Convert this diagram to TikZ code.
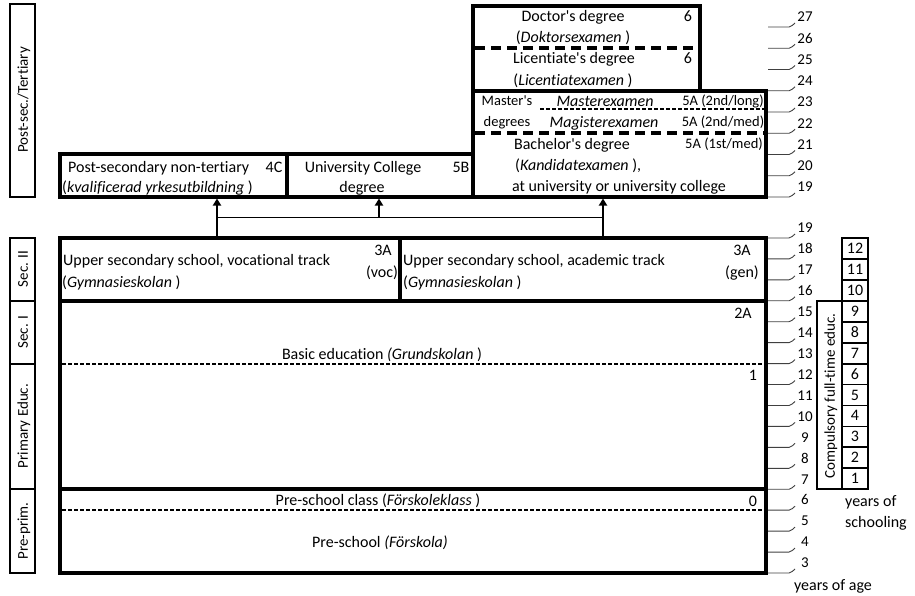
\documentclass[tikz,border=0pt]{standalone}
\usepackage{fontspec}
\setmainfont{Carlito}[Ligatures={TeXOff,NoCommon}]
\usetikzlibrary{arrows.meta}
\begin{document}
\begin{tikzpicture}[x=1pt,y=-1pt,
  thickbox/.style={line width=4pt},
  catbox/.style={line width=1.8pt},
  heavydash/.style={line width=4pt, dash pattern=on 10pt off 6pt},
  thindash/.style={line width=1.8pt, dash pattern=on 4pt off 2pt},
  tickline/.style={line width=0.9pt, draw=black!75},
  thinline/.style={line width=1pt},
  txt/.style={inner sep=0pt, text height=10pt, text depth=0pt, font=\fontsize{16}{20}\selectfont},
  smalltxt/.style={inner sep=0pt, text height=9pt, text depth=0pt, font=\fontsize{14.5}{18}\selectfont},
  agenum/.style={inner sep=0pt, text height=9.5pt, text depth=0pt, font=\fontsize{15}{18}\selectfont},
  yearnum/.style={inner sep=0pt, text height=10pt, text depth=0pt, font=\fontsize{16}{18}\selectfont},
  cattxt/.style={inner sep=0pt, rotate=90, text height=9.5pt, text depth=0pt, font=\fontsize{15}{18}\selectfont},
  arr/.style={line width=2.4pt, -{Triangle[width=8pt,length=7pt]}},
]
\useasboundingbox (0,0) rectangle (915,595);

% ---------- category column ----------
\draw[catbox] (10,4) rectangle (35,197);
\draw[catbox] (10,238) rectangle (35,300.8);
\draw[catbox] (10,300.8) rectangle (35,363.6);
\draw[catbox] (10,363.6) rectangle (35,489.2);
\draw[catbox] (10,489.2) rectangle (35,573);
\node[cattxt] (c1) at (23,100) {Post-sec./Tertiary};
\node[cattxt] (c2) at (23,269) {Sec. II};
\node[cattxt] (c3) at (23,332) {Sec. I};
\node[cattxt] (c4) at (23,426) {Primary Educ.};
\node[cattxt] (c5) at (23,531) {Pre-prim.};

% ---------- tertiary boxes ----------
\draw[thickbox] (473,5.75) rectangle (700,90.75);
\draw[heavydash] (475,48.25) -- (698,48.25);
\draw[thickbox] (473,90.75) rectangle (766,197);
\draw[thindash] (540,109) -- (764,109);
\draw[heavydash] (475,133.25) -- (764,133.25);
\draw[thickbox] (60,154) rectangle (287,197);
\draw[thickbox] (287,154) rectangle (473,197);

\node[txt] (doc1) at (573,16) {Doctor's degree};
\node[txt] (doc6) at (688,16) {6};
\node[txt] (doc2) at (573,37) {(\textit{Doktorsexamen} )};
\node[txt] (lic1) at (574,58) {Licentiate's degree};
\node[txt] (lic6) at (688,58) {6};
\node[txt] (lic2) at (573,80) {(\textit{Licentiatexamen} )};
\node[smalltxt] (ms1) at (507,101) {Master's};
\node[smalltxt] (ms2) at (507,122) {degrees};
\node[txt] (mex) at (605,101) {\textit{Masterexamen}};
\node[smalltxt] (m5a) at (723,101) {5A (2nd/long)};
\node[txt] (mag) at (604,122) {\textit{Magisterexamen}};
\node[smalltxt] (g5a) at (723,122) {5A (2nd/med)};
\node[txt] (ba1) at (572,144) {Bachelor's degree};
\node[smalltxt] (b5a) at (724,144) {5A (1st/med)};
\node[txt, anchor=west] (ba2) at (515,165) {(\textit{Kandidatexamen} ),};
\node[txt] (ba3) at (619,186) {at university or university college};

\node[txt, anchor=west] (ps1) at (68,167) {Post-secondary non-tertiary};
\node[txt] (ps4c) at (274,167) {4C};
\node[txt, anchor=west] (ps2) at (62,187) {(\textit{kvalificerad yrkesutbildning} )};
\node[txt] (uc1) at (363,167) {University College};
\node[txt] (uc5b) at (461,167) {5B};
\node[txt] (uc2) at (362,187) {degree};

% ---------- arrows ----------
\coordinate (vocTop) at (217,236);
\coordinate (pstBot) at (217,198.5);
\coordinate (acTop) at (603,236);
\coordinate (bacBot) at (603,198.5);
\coordinate (jL) at (217,217);
\coordinate (jR) at (603,217);
\coordinate (jM) at (379,217);
\coordinate (ucBot) at (379,198.5);
\draw[thinline] (jL) -- (jR);
\draw[arr] (vocTop) -- (pstBot);
\draw[arr] (acTop) -- (bacBot);
\draw[arr] (jM) -- (ucBot);

% ---------- secondary & basic ----------
\draw[thickbox] (60,238) rectangle (400,300.8);
\draw[thickbox] (400,238) rectangle (766,300.8);
\draw[thickbox] (60,300.8) rectangle (766,489.2);
\draw[thindash] (62,363.6) -- (764,363.6);
\draw[thickbox] (60,489.2) rectangle (766,573);
\draw[thindash] (62,510.2) -- (764,510.2);

\node[txt, anchor=west] (us1) at (63,260) {Upper secondary school, vocational track};
\node[txt, anchor=west] (us2) at (62,282) {(\textit{Gymnasieskolan} )};
\node[txt] (us3a) at (383,250) {3A};
\node[txt] (usvoc) at (382,272) {(voc)};
\node[txt, anchor=west] (ua1) at (403,260) {Upper secondary school, academic track};
\node[txt, anchor=west] (ua2) at (403,282) {(\textit{Gymnasieskolan} )};
\node[txt] (ua3a) at (742,250) {3A};
\node[txt] (uagen) at (742,272) {(gen)};

\node[txt] (b2a) at (743,313) {2A};
\node[txt] (bas) at (382,354) {Basic education \textit{(Grundskolan} )};
\node[txt] (b1) at (753,375) {1};
\node[txt] (psc) at (378,500) {Pre-school class (\textit{Förskoleklass} )};
\node[txt] (b0) at (753,501) {0};
\node[txt] (pre) at (380,542) {Pre-school \textit{(Förskola)}};

% ---------- age scale ----------
\foreach \a in {19,...,27} {
  \pgfmathsetmacro\yy{197-(\a-19)*21.25}
  \draw[tickline] (768,\yy) -- (789,\yy) .. controls (792,\yy) and (793,\yy-3) .. (795,\yy-4);
  \node[agenum] (up\a) at (805,\yy-10) {\a};
}
\foreach \a in {3,...,19} {
  \pgfmathsetmacro\yy{573-(\a-3)*20.94}
  \draw[tickline] (768,\yy) -- (789,\yy) .. controls (792,\yy) and (793,\yy-3) .. (795,\yy-4);
  \node[agenum] (lo\a) at (805,\yy-10) {\a};
}
\node[txt] (yoa) at (833,585) {years of age};

% ---------- years of schooling ----------
\draw[catbox] (817,300.8) rectangle (842,489.2);
\node[cattxt] (comp) at (830,396) {Compulsory full-time educ.};
\foreach \n in {1,...,12} {
  \pgfmathsetmacro\yt{573-(\n+4)*20.94}
  \pgfmathsetmacro\yb{573-(\n+3)*20.94}
  \draw[catbox] (842,\yt) rectangle (868,\yb);
  \node[yearnum] (ys\n) at (855,{(\yt+\yb)/2}) {\n};
}
\node[txt, anchor=west] (yo1) at (845,501) {years of};
\node[txt, anchor=west] (yo2) at (845,522) {schooling};
\end{tikzpicture}
\end{document}
